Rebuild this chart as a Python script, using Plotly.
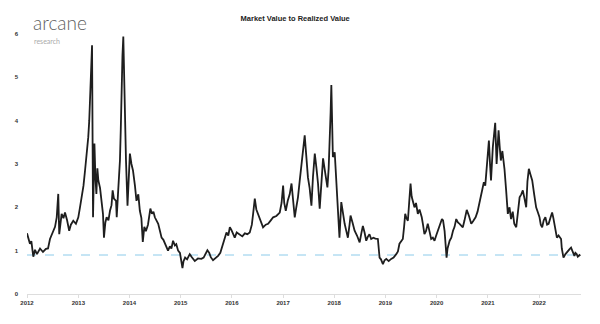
import plotly.graph_objects as go

dates = [
"2012-01-01","2012-01-11","2012-01-22","2012-02-01","2012-02-15","2012-02-27","2012-03-12","2012-04-03","2012-04-24","2012-05-15",
"2012-05-30","2012-06-13","2012-07-04","2012-07-19","2012-07-31","2012-08-11","2012-08-18","2012-09-04","2012-09-17","2012-09-28",
"2012-10-13","2012-10-28","2012-11-09","2012-11-26","2012-12-15","2013-01-01","2013-01-13","2013-01-25","2013-02-07","2013-02-18",
"2013-03-01","2013-03-13","2013-03-20","2013-03-25","2013-04-01","2013-04-09","2013-04-16","2013-04-22","2013-04-26","2013-05-03",
"2013-05-10","2013-05-17","2013-05-24","2013-06-05","2013-06-17","2013-06-26","2013-07-03","2013-07-13","2013-07-22","2013-08-04",
"2013-08-15","2013-08-26","2013-09-03","2013-09-12","2013-09-27","2013-10-02","2013-10-11","2013-10-18","2013-10-25","2013-10-31",
"2013-11-05","2013-11-12","2013-11-18","2013-11-26","2013-11-30","2013-12-07","2013-12-18","2013-12-28","2014-01-04","2014-01-15",
"2014-01-26","2014-02-09","2014-02-20","2014-03-05","2014-03-16","2014-03-27","2014-04-06","2014-04-17","2014-04-28","2014-05-13",
"2014-05-30","2014-06-10","2014-06-21","2014-07-01","2014-07-16","2014-07-25","2014-08-07","2014-08-18","2014-08-31","2014-09-11",
"2014-09-23","2014-10-03","2014-10-16","2014-10-27","2014-11-08","2014-11-21","2014-12-01","2014-12-14","2014-12-27","2015-01-07",
"2015-01-14","2015-01-21","2015-02-02","2015-02-16","2015-03-07","2015-03-22","2015-04-12","2015-05-04","2015-05-29","2015-06-14",
"2015-06-29","2015-07-11","2015-07-24","2015-08-04","2015-08-20","2015-09-05","2015-09-25","2015-10-11","2015-10-31","2015-11-11",
"2015-11-24","2015-12-07","2015-12-18","2015-12-29","2016-01-10","2016-01-22","2016-02-05","2016-02-27","2016-03-16","2016-04-03",
"2016-04-21","2016-05-08","2016-05-23","2016-06-01","2016-06-13","2016-06-24","2016-07-06","2016-07-22","2016-08-11","2016-08-30",
"2016-09-16","2016-10-05","2016-10-22","2016-11-14","2016-12-08","2016-12-21","2017-01-01","2017-01-09","2017-01-20","2017-02-03",
"2017-02-17","2017-03-02","2017-03-14","2017-03-25","2017-04-05","2017-04-17","2017-04-29","2017-05-11","2017-05-23","2017-06-04",
"2017-06-15","2017-06-27","2017-07-09","2017-07-22","2017-08-02","2017-08-15","2017-08-27","2017-09-07","2017-09-19","2017-10-01",
"2017-10-13","2017-10-28","2017-11-13","2017-11-22","2017-11-29","2017-12-06","2017-12-11","2017-12-17","2017-12-22","2018-01-04",
"2018-01-16","2018-01-25","2018-02-07","2018-02-20","2018-03-03","2018-03-16","2018-03-28","2018-04-08","2018-04-20","2018-04-27",
"2018-05-11","2018-05-26","2018-06-12","2018-07-01","2018-07-13","2018-07-24","2018-08-05","2018-08-17","2018-08-28","2018-09-09",
"2018-09-21","2018-10-07","2018-10-21","2018-11-08","2018-11-20","2018-11-30","2018-12-14","2018-12-26","2019-01-07","2019-01-24",
"2019-02-11","2019-02-28","2019-03-19","2019-03-31","2019-04-11","2019-04-23","2019-05-05","2019-05-14","2019-05-22","2019-05-31",
"2019-06-10","2019-06-19","2019-06-29","2019-07-07","2019-07-15","2019-07-27","2019-08-07","2019-08-20","2019-09-01","2019-09-17",
"2019-09-26","2019-10-06","2019-10-17","2019-10-30","2019-11-11","2019-11-23","2019-12-05","2019-12-17","2019-12-29","2020-01-10",
"2020-01-22","2020-02-08","2020-02-16","2020-02-27","2020-03-12","2020-03-19","2020-04-03","2020-04-15","2020-04-27","2020-05-08",
"2020-05-20","2020-06-01","2020-06-13","2020-06-24","2020-07-06","2020-07-18","2020-08-03","2020-08-19","2020-09-04","2020-09-17",
"2020-10-05","2020-10-19","2020-11-09","2020-11-21","2020-12-03","2020-12-13","2020-12-22","2021-01-03","2021-01-08","2021-01-16",
"2021-01-23","2021-02-05","2021-02-13","2021-02-22","2021-03-04","2021-03-11","2021-03-18","2021-03-26","2021-04-03","2021-04-14",
"2021-04-29","2021-05-11","2021-05-23","2021-06-04","2021-06-15","2021-06-27","2021-07-08","2021-07-22","2021-08-02","2021-08-15",
"2021-08-27","2021-09-07","2021-09-19","2021-10-01","2021-10-10","2021-10-20","2021-11-01","2021-11-13","2021-11-27","2021-12-11",
"2021-12-22","2022-01-04","2022-01-13","2022-01-23","2022-02-03","2022-02-15","2022-02-27","2022-03-10","2022-03-22","2022-04-04",
"2022-04-13","2022-04-21","2022-05-02","2022-05-08","2022-05-20","2022-06-07","2022-06-12","2022-06-24","2022-07-08","2022-07-24",
"2022-08-05","2022-08-17","2022-08-28","2022-09-10","2022-09-17","2022-09-26","2022-10-04","2022-10-16","2022-10-22"]

mvrv = [
1.40,1.30,1.16,1.22,0.86,1.02,0.92,1.05,0.97,1.04,
1.05,1.27,1.46,1.55,1.77,2.31,1.38,1.85,1.75,1.88,
1.70,1.46,1.60,1.69,1.62,1.77,2.00,2.23,2.50,2.85,
3.20,3.62,4.00,4.55,5.20,5.74,1.77,2.80,3.47,2.70,
2.31,2.90,2.62,2.45,2.08,1.85,1.30,1.65,1.77,1.70,
1.92,2.05,2.39,2.20,2.15,1.77,2.30,2.70,3.08,3.80,
4.80,5.50,5.94,4.50,3.78,3.10,2.04,2.60,3.24,3.00,
2.85,2.50,2.15,2.30,1.92,1.75,1.20,1.55,1.45,1.60,
1.97,1.85,1.90,1.77,1.68,1.62,1.45,1.30,1.25,1.15,
1.07,1.00,1.10,1.05,1.23,1.12,1.15,1.00,0.95,0.78,
0.60,0.75,0.84,0.80,0.92,0.85,0.76,0.82,0.81,0.84,
0.92,1.01,0.95,0.85,0.78,0.82,0.88,0.95,1.16,1.28,
1.42,1.35,1.54,1.48,1.38,1.30,1.42,1.38,1.33,1.40,
1.38,1.42,1.60,1.85,2.20,1.95,1.85,1.72,1.54,1.60,
1.62,1.70,1.77,1.80,1.88,2.10,2.50,2.10,1.92,2.15,
2.30,2.55,2.20,1.77,2.00,2.23,2.60,3.00,3.30,3.66,
3.20,2.69,2.45,2.04,2.70,3.24,2.90,2.55,1.97,2.60,
3.13,2.80,2.46,2.90,3.39,4.20,4.82,3.60,3.16,3.27,
2.55,2.08,1.30,2.12,1.85,1.62,1.45,1.30,1.60,1.81,
1.65,1.46,1.35,1.19,1.40,1.57,1.42,1.23,1.32,1.38,
1.27,1.30,1.28,1.27,0.84,0.80,0.69,0.78,0.81,0.76,
0.81,0.84,0.92,0.98,1.16,1.22,1.27,1.55,1.85,1.75,
1.69,2.10,2.55,2.25,2.15,2.00,2.10,1.85,1.95,1.77,
1.60,1.38,1.45,1.62,1.45,1.27,1.30,1.23,1.35,1.46,
1.57,1.73,1.70,1.45,0.84,1.05,1.23,1.30,1.46,1.55,
1.73,1.65,1.62,1.58,1.54,1.70,1.94,1.80,1.62,1.68,
1.77,1.90,2.23,2.35,2.58,2.50,2.85,3.20,3.54,3.00,
2.62,3.39,3.70,3.95,3.00,3.50,3.78,3.40,3.08,3.30,
2.89,2.39,1.85,2.00,1.73,1.90,1.62,1.54,1.85,2.23,
2.30,2.39,2.20,2.00,2.60,2.89,2.75,2.62,2.30,2.00,
1.90,1.77,1.60,1.54,1.70,1.77,1.60,1.62,1.75,1.88,
1.75,1.62,1.45,1.30,1.35,1.27,1.05,0.84,0.92,1.00,
1.03,1.07,0.98,0.88,0.95,0.92,0.86,0.90,0.88]

year_ticks = ["2012-01-01","2013-01-01","2014-01-01","2015-01-01","2016-01-01","2017-01-01",
              "2018-01-01","2019-01-01","2020-01-01","2021-01-01","2022-01-01"]
year_labels = ["2012","2013","2014","2015","2016","2017","2018","2019","2020","2021","2022"]
y_ticks = [0, 1, 2, 3, 4, 5, 6]
ref_level = 0.9

W, H = 600, 324
ML, MR, MT, MB = 27, 19, 34, 30
PW, PH = W - ML - MR, H - MT - MB


def px_to_paper(xp, yp):
    return (xp - ML) / PW, (H - MB - yp) / PH


fig = go.Figure()
fig.add_trace(go.Scatter(x=dates, y=mvrv, mode="lines",
                         line=dict(color="#1e1e1e", width=1.8), showlegend=False))

fig.add_shape(type="line", xref="paper", yref="y", x0=0, x1=1, y0=ref_level, y1=ref_level,
              line=dict(color="#8ccbea", width=1, dash="dash"), layer="below")

tickfont = dict(family="Liberation Sans, Arial", size=6, color="#333333", weight="bold")

ax, ay = px_to_paper(32, 35.5)
rx, ry = px_to_paper(33, 36.5)

fig.update_layout(
    width=W, height=H,
    margin=dict(l=ML, r=MR, t=MT, b=MB),
    paper_bgcolor="white", plot_bgcolor="white",
    title=dict(text="Market Value to Realized Value", x=0.492, xanchor="center",
               y=1 - 18/324, yanchor="middle",
               font=dict(family="Liberation Sans, Arial", size=7.5, color="#222222", weight="bold")),
    xaxis=dict(range=["2012-01-01", "2022-10-27"], tickvals=year_ticks, ticktext=year_labels,
               showgrid=False, zeroline=False, showline=True, linecolor="#dddddd", linewidth=1,
               ticks="outside", ticklen=3, tickcolor="#dddddd", tickfont=tickfont),
    yaxis=dict(range=[0, 6], tickvals=y_ticks, ticktext=[str(v) for v in y_ticks],
               showgrid=False, zeroline=False, showline=False, ticks="",
               ticklabelstandoff=8, tickfont=tickfont),
    annotations=[
        dict(text="arcane", xref="paper", yref="paper", x=ax, y=ay,
             xanchor="left", yanchor="bottom", showarrow=False, borderpad=0,
             font=dict(family="Lato", size=19, color="#5f5f5f", weight=300)),
        dict(text="research", xref="paper", yref="paper", x=rx, y=ry,
             xanchor="left", yanchor="top", showarrow=False, borderpad=0,
             font=dict(family="Lato", size=7, color="#aaaaaa")),
    ],
)

fig.write_html("out.html")
